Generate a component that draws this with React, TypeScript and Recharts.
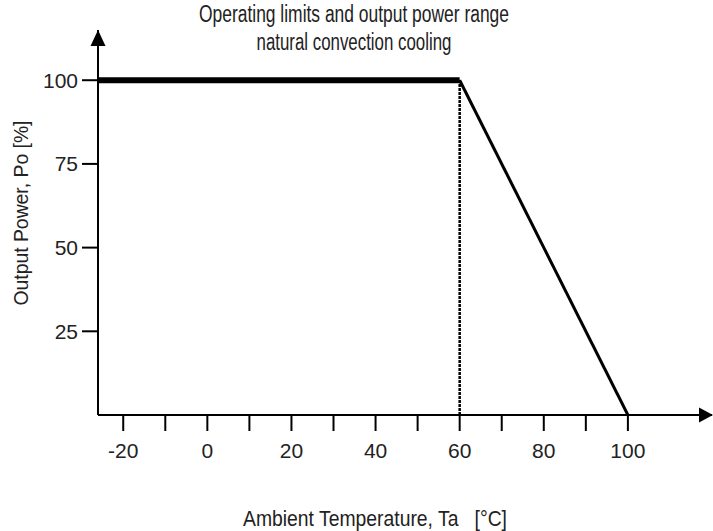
import { LineChart, Line, XAxis, YAxis, ReferenceDot, Customized } from "recharts";

const FONT = '"Liberation Sans", Arial, sans-serif';

// temperature in °C, power in %
const xTicks = [-20, -10, 0, 10, 20, 30, 40, 50, 60, 70, 80, 90, 100];
const yTicks = [25, 50, 75, 100];
const flatTemps = [-26, 60];
const flatPower = [100, 100];
const derateTemps = [60, 100];
const deratePower = [100, 0];
const limitTemps = [60, 60];
const limitPower = [0, 100];

const titleLines = ["Operating limits and output power range", "natural convection cooling"];
const xLabel = "Ambient Temperature, Ta   [°C]";
const yLabel = "Output Power, Po [%]";

const toPoints = (ts: number[], ps: number[]) => ts.map((t, i) => ({ t, p: ps[i] }));

const UpArrow = (props: any) => {
  const { cx, cy } = props;
  return <polygon points={`${cx},${cy} ${cx - 7.5},${cy + 16} ${cx + 7.5},${cy + 16}`} fill="#000" />;
};

const RightArrow = (props: any) => {
  const { cx, cy } = props;
  return <polygon points={`${cx + 1},${cy} ${cx - 13},${cy - 7.5} ${cx - 13},${cy + 7.5}`} fill="#000" />;
};

const Texts = () => (
  <g fontFamily={FONT} fill="#222">
    <text x={354} y={22} textAnchor="middle" fontSize={23} textLength={310} lengthAdjust="spacingAndGlyphs">
      {titleLines[0]}
    </text>
    <text x={354} y={50} textAnchor="middle" fontSize={23} textLength={195} lengthAdjust="spacingAndGlyphs">
      {titleLines[1]}
    </text>
    <text
      x={375}
      y={526}
      textAnchor="middle"
      fontSize={22}
      textLength={264}
      lengthAdjust="spacingAndGlyphs"
      style={{ whiteSpace: "pre" }}
    >
      {xLabel}
    </text>
    <text
      x={28}
      y={213}
      textAnchor="middle"
      fontSize={21}
      textLength={185}
      lengthAdjust="spacingAndGlyphs"
      transform="rotate(-90 28 213)"
    >
      {yLabel}
    </text>
  </g>
);

export default function App() {
  return (
    <div style={{ position: "absolute", left: 0, top: 0, background: "#fff" }}>
      <LineChart width={713} height={531} margin={{ top: 30, right: 1, bottom: 76, left: 0 }}>
        <XAxis
          type="number"
          dataKey="t"
          domain={[-26, 120]}
          allowDataOverflow
          ticks={xTicks}
          tickFormatter={(v: number) => (v % 20 === 0 ? String(v) : "")}
          height={40}
          tickSize={16}
          tickMargin={12}
          axisLine={{ stroke: "#000", strokeWidth: 2 }}
          tickLine={{ stroke: "#000", strokeWidth: 2 }}
          tick={{ fill: "#222", fontSize: 21, fontFamily: FONT }}
        />
        <YAxis
          type="number"
          dataKey="p"
          domain={[0, 115]}
          allowDataOverflow
          ticks={yTicks}
          width={98}
          tickSize={16}
          tickMargin={4}
          axisLine={{ stroke: "#000", strokeWidth: 2 }}
          tickLine={{ stroke: "#000", strokeWidth: 2 }}
          tick={{ fill: "#222", fontSize: 21, fontFamily: FONT }}
        />
        <Line
          data={toPoints(limitTemps, limitPower)}
          dataKey="p"
          stroke="#000"
          strokeWidth={2.5}
          strokeDasharray="3 1"
          dot={false}
          isAnimationActive={false}
        />
        <Line
          data={toPoints(flatTemps, flatPower)}
          dataKey="p"
          stroke="#000"
          strokeWidth={6}
          dot={false}
          isAnimationActive={false}
        />
        <Line
          data={toPoints(derateTemps, deratePower)}
          dataKey="p"
          stroke="#000"
          strokeWidth={3}
          dot={false}
          isAnimationActive={false}
        />
        <ReferenceDot x={-26} y={115} r={0} ifOverflow="visible" shape={UpArrow} />
        <ReferenceDot x={120} y={0} r={0} ifOverflow="visible" shape={RightArrow} />
        <Customized component={Texts} />
      </LineChart>
    </div>
  );
}
